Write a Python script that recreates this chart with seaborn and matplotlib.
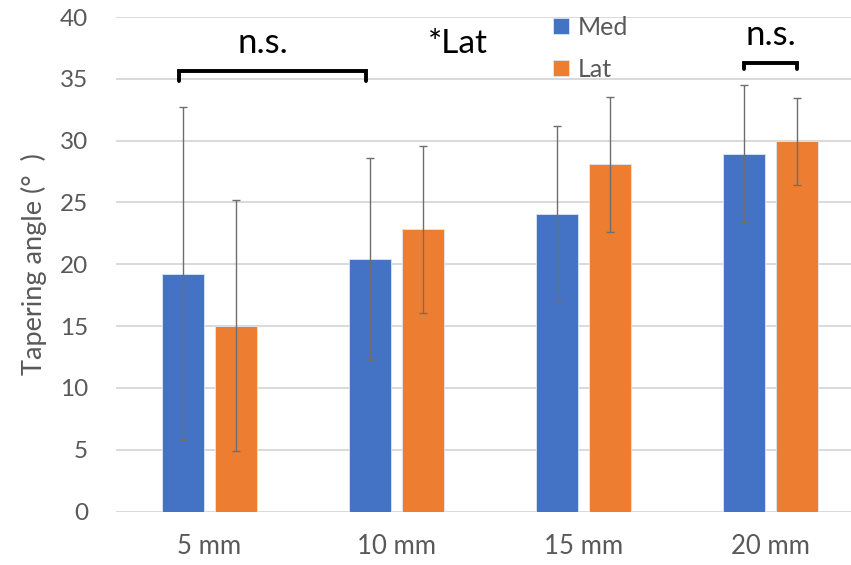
import numpy as np
import pandas as pd
import matplotlib
matplotlib.use("Agg")
import matplotlib.pyplot as plt
import seaborn as sns

# values
positions = ["5 mm", "10 mm", "15 mm", "20 mm"]
med_mean = [19.25, 20.45, 24.1, 28.95]
med_sd = [13.45, 8.15, 7.1, 5.55]
lat_mean = [15.05, 22.85, 28.1, 29.95]
lat_sd = [10.15, 6.75, 5.45, 3.5]

BLUE = "#4472C4"
ORANGE = "#ED7D31"
GREY = "#595959"

sns.set_theme(style="white")
plt.rcParams["font.family"] = ["Lato", "DejaVu Sans"]

df = pd.DataFrame({
	"position": positions * 2,
	"angle": med_mean + lat_mean,
	"side": ["Med"] * 4 + ["Lat"] * 4,
})

fig = plt.figure(figsize=(8.51, 5.65), dpi=100)
ax = fig.add_axes([116 / 851, 1 - 511.6 / 565, 748 / 851, 494.6 / 565])

sns.barplot(data=df, x="position", y="angle", hue="side",
            palette=[BLUE, ORANGE], saturation=1, width=0.567, gap=0.2,
            errorbar=None, edgecolor="#dce6f5", linewidth=0.6, ax=ax)

# error bars (SD) at bar centres
for cont, sd in zip(ax.containers, [med_sd, lat_sd]):
	xs = [p.get_x() + p.get_width() / 2 for p in cont]
	ys = [p.get_height() for p in cont]
	ax.errorbar(xs, ys, yerr=sd, fmt="none", ecolor="#6e6e6e",
	            elinewidth=1.0, capsize=3, capthick=1.0, zorder=3)

ax.set_ylim(0, 40)
ax.set_xlim(-0.5, 3.5)
ax.set_yticks(np.arange(0, 41, 5))
ax.yaxis.grid(True, color="#D9D9D9", linewidth=1.4)
ax.set_axisbelow(True)
for s in ax.spines.values():
	s.set_visible(False)
ax.tick_params(axis="both", length=0, labelsize=17.5, colors=GREY)
ax.tick_params(axis="x", labelsize=18.5, pad=16)
ax.tick_params(axis="y", pad=20)
ax.set_xlabel("")
ax.set_ylabel("Tapering angle (°  )", fontsize=19.5, color=GREY)
ax.yaxis.set_label_coords(-0.092, 0.5)

# significance brackets
med_x = [p.get_x() + p.get_width() / 2 for p in ax.containers[0]]
lat_x = [p.get_x() + p.get_width() / 2 for p in ax.containers[1]]
x1, x2 = med_x[0] - 0.02, med_x[1] - 0.02
ax.plot([x1, x1, x2, x2], [34.8, 35.6, 35.6, 34.8], color="black", lw=2.8,
        solid_joinstyle="miter", clip_on=False)
ax.text((x1 + x2) / 2 - 0.055, 37.1, "n.s.", ha="center", va="baseline",
        fontsize=25, color="black")
x3, x4 = med_x[3], lat_x[3]
ax.plot([x3, x3, x4, x4], [35.8, 36.3, 36.3, 35.8], color="black", lw=2.8,
        solid_joinstyle="miter", clip_on=False)
ax.text((x3 + x4) / 2, 37.75, "n.s.", ha="center", va="baseline",
        fontsize=25, color="black")
ax.text(1.33, 37.07, "*Lat", ha="center", va="baseline",
        fontsize=24, color="black")

leg = ax.legend(loc="upper left", bbox_to_anchor=(553 / 851, 1 - 16 / 565),
                bbox_transform=fig.transFigure, frameon=False, fontsize=18,
                handlelength=0.64, handleheight=0.64, handletextpad=0.36,
                labelspacing=0.75, borderpad=0, borderaxespad=0)
for t in leg.get_texts():
	t.set_color(GREY)

fig.savefig("out.png", dpi=100)
